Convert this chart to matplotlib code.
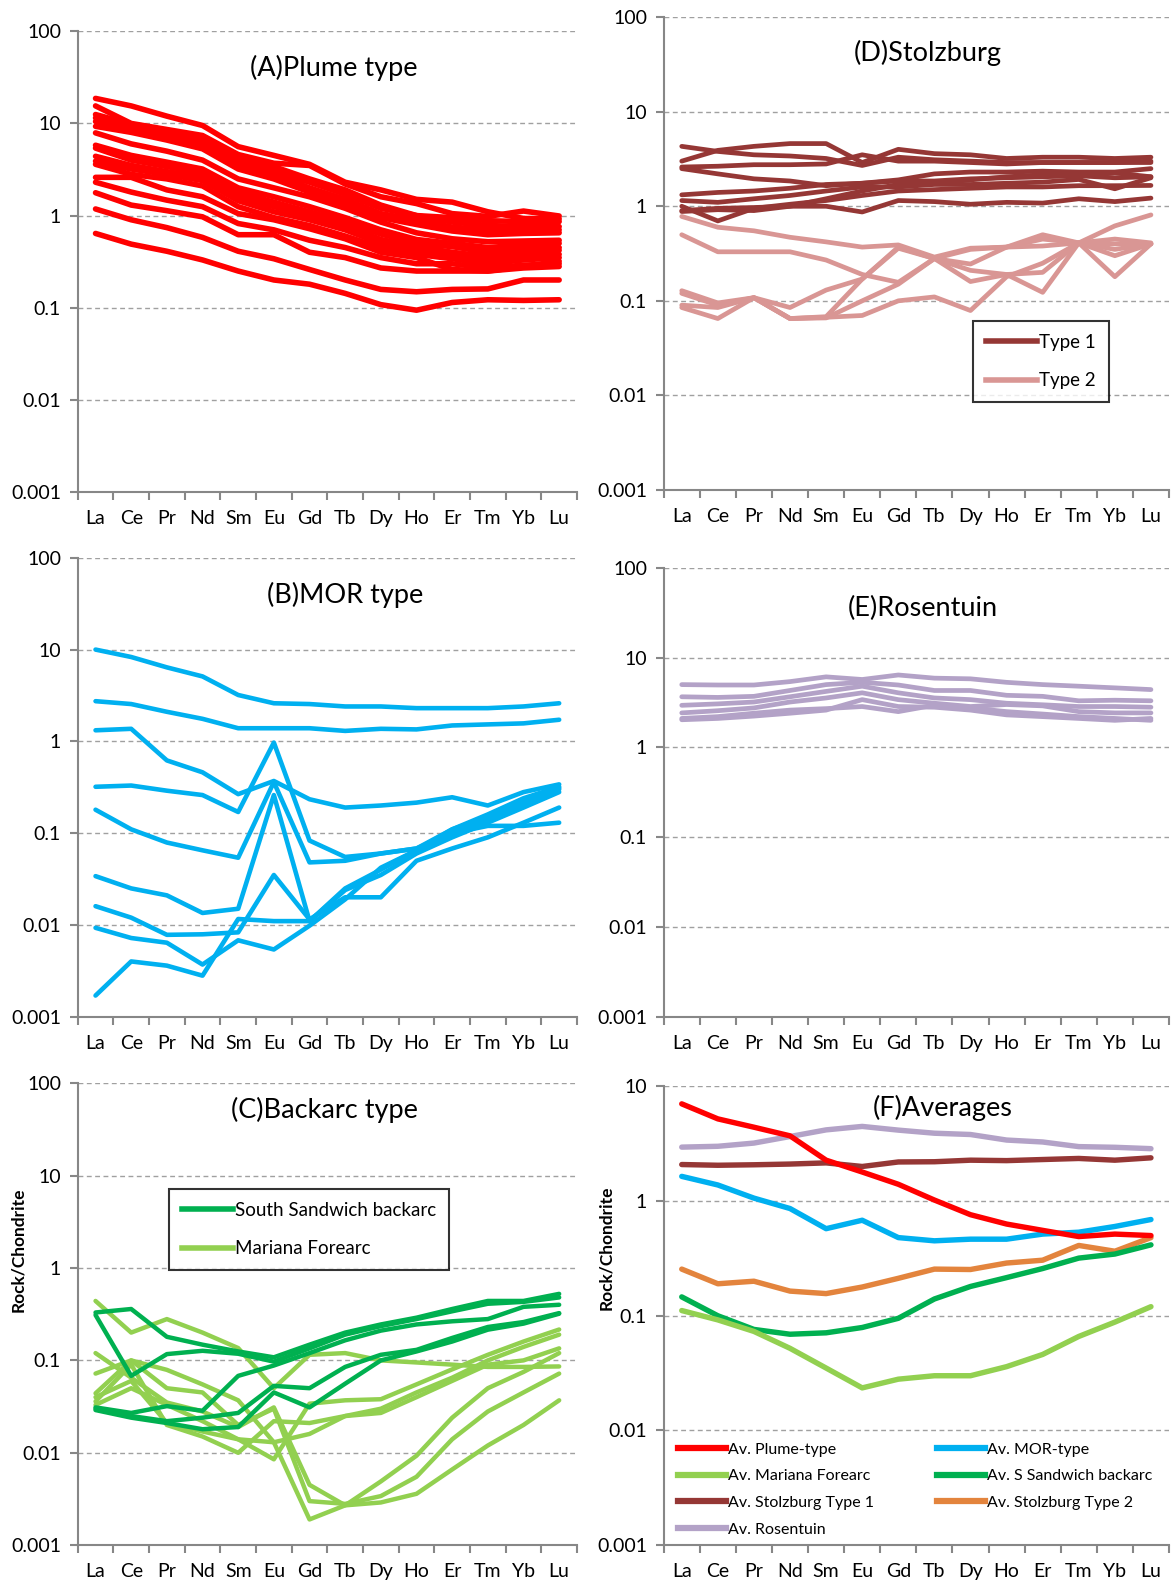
import matplotlib
matplotlib.use('Agg')
import matplotlib.pyplot as plt
import numpy as np
from matplotlib.lines import Line2D
from matplotlib.ticker import NullLocator

plt.rcParams['font.family'] = ['Lato', 'DejaVu Sans']

# REE categories
ree = ['La', 'Ce', 'Pr', 'Nd', 'Sm', 'Eu', 'Gd', 'Tb', 'Dy', 'Ho', 'Er', 'Tm', 'Yb', 'Lu']

# (A) plume type samples
plume = [
    [18.7, 15.5, 12.0, 9.5, 5.6, 4.5, 3.6, 2.3, 1.9, 1.5, 1.4, 1.1, 0.93, 0.92],
    [15.5, 10.0, 8.6, 7.4, 4.6, 3.7, 3.5, 2.2, 1.6, 1.35, 1.05, 0.98, 1.12, 0.99],
    [12.5, 9.8, 8.4, 6.8, 4.4, 3.4, 2.5, 1.9, 1.3, 1.0, 0.95, 0.88, 0.86, 0.86],
    [11.5, 9.3, 8.0, 6.4, 4.0, 3.0, 2.3, 1.7, 1.2, 1.0, 0.85, 0.78, 0.76, 0.76],
    [10.5, 8.8, 7.4, 6.0, 3.6, 2.8, 2.0, 1.5, 1.05, 0.9, 0.75, 0.7, 0.7, 0.7],
    [9.3, 8.0, 6.6, 5.3, 3.2, 2.5, 1.8, 1.35, 0.95, 0.8, 0.68, 0.62, 0.64, 0.65],
    [7.9, 6.0, 5.0, 4.0, 2.5, 2.0, 1.6, 1.2, 0.85, 0.65, 0.56, 0.52, 0.53, 0.54],
    [5.8, 4.5, 3.8, 3.2, 2.0, 1.6, 1.25, 0.95, 0.7, 0.55, 0.5, 0.45, 0.48, 0.5],
    [5.4, 4.0, 3.4, 2.9, 1.8, 1.4, 1.1, 0.85, 0.63, 0.5, 0.46, 0.4, 0.43, 0.45],
    [4.4, 3.5, 3.0, 2.6, 1.6, 1.25, 1.0, 0.78, 0.55, 0.46, 0.4, 0.36, 0.4, 0.42],
    [3.9, 3.2, 2.8, 2.4, 1.45, 1.1, 0.9, 0.7, 0.5, 0.42, 0.37, 0.33, 0.36, 0.38],
    [3.6, 2.8, 2.5, 2.1, 1.25, 0.95, 0.78, 0.6, 0.45, 0.38, 0.34, 0.3, 0.33, 0.35],
    [2.6, 2.6, 1.9, 1.6, 1.05, 0.9, 0.72, 0.56, 0.4, 0.35, 0.26, 0.25, 0.28, 0.32],
    [2.3, 1.8, 1.47, 1.25, 0.82, 0.7, 0.54, 0.45, 0.35, 0.3, 0.3, 0.27, 0.29, 0.3],
    [1.77, 1.3, 1.13, 0.97, 0.62, 0.62, 0.40, 0.35, 0.27, 0.25, 0.25, 0.25, 0.27, 0.28],
    [1.18, 0.9, 0.74, 0.58, 0.41, 0.34, 0.26, 0.2, 0.158, 0.149, 0.158, 0.16, 0.2, 0.2],
    [0.64, 0.49, 0.41, 0.33, 0.25, 0.2, 0.18, 0.143, 0.108, 0.094, 0.114, 0.122, 0.12, 0.122],
]

# (B) MOR type samples
mor = [
    [10.0, 8.3, 6.4, 5.1, 3.2, 2.6, 2.55, 2.4, 2.4, 2.3, 2.3, 2.3, 2.4, 2.6],
    [2.74, 2.55, 2.1, 1.76, 1.39, 1.39, 1.39, 1.3, 1.37, 1.35, 1.49, 1.53, 1.57, 1.72],
    [1.32, 1.37, 0.62, 0.46, 0.266, 0.37, 0.234, 0.19, 0.2, 0.215, 0.246, 0.2, 0.28, 0.34],
    [0.32, 0.33, 0.29, 0.26, 0.17, 0.97, 0.083, 0.055, 0.06, 0.068, 0.1, 0.14, 0.2, 0.3],
    [0.18, 0.11, 0.079, 0.065, 0.054, 0.36, 0.048, 0.05, 0.06, 0.068, 0.11, 0.15, 0.22, 0.31],
    [0.034, 0.025, 0.021, 0.0135, 0.015, 0.26, 0.011, 0.024, 0.035, 0.06, 0.09, 0.13, 0.19, 0.28],
    [0.016, 0.012, 0.0078, 0.0079, 0.0083, 0.035, 0.0115, 0.02, 0.02, 0.05, 0.068, 0.09, 0.13, 0.19],
    [0.0093, 0.0072, 0.0064, 0.0037, 0.0068, 0.0054, 0.0098, 0.019, 0.042, 0.065, 0.1, 0.12, 0.12, 0.13],
    [0.0017, 0.004, 0.0036, 0.0028, 0.0116, 0.011, 0.011, 0.025, 0.04, 0.065, 0.11, 0.16, 0.24, 0.32],
]

# (C) backarc / forearc samples
ss_backarc = [
    [0.33, 0.36, 0.18, 0.148, 0.125, 0.108, 0.148, 0.2, 0.245, 0.29, 0.36, 0.44, 0.44, 0.525],
    [0.31, 0.068, 0.117, 0.127, 0.118, 0.097, 0.135, 0.19, 0.235, 0.28, 0.34, 0.41, 0.43, 0.48],
    [0.031, 0.027, 0.032, 0.0285, 0.068, 0.088, 0.12, 0.165, 0.21, 0.245, 0.265, 0.28, 0.38, 0.4],
    [0.03, 0.025, 0.022, 0.024, 0.027, 0.053, 0.05, 0.085, 0.115, 0.13, 0.175, 0.23, 0.26, 0.325],
    [0.029, 0.024, 0.021, 0.018, 0.019, 0.045, 0.031, 0.056, 0.1, 0.125, 0.16, 0.215, 0.25, 0.32],
]
mariana = [
    [0.44, 0.2, 0.28, 0.2, 0.136, 0.05, 0.115, 0.12, 0.1, 0.095, 0.09, 0.085, 0.085, 0.086],
    [0.12, 0.065, 0.035, 0.028, 0.019, 0.031, 0.0045, 0.0027, 0.0049, 0.0093, 0.024, 0.05, 0.075, 0.12],
    [0.072, 0.1, 0.05, 0.045, 0.02, 0.03, 0.003, 0.0028, 0.0034, 0.0055, 0.014, 0.028, 0.045, 0.072],
    [0.044, 0.1, 0.079, 0.055, 0.037, 0.013, 0.0019, 0.0027, 0.0029, 0.0036, 0.0066, 0.012, 0.02, 0.037],
    [0.04, 0.06, 0.021, 0.017, 0.014, 0.0085, 0.034, 0.037, 0.038, 0.055, 0.08, 0.115, 0.16, 0.216],
    [0.036, 0.09, 0.02, 0.015, 0.01, 0.022, 0.021, 0.025, 0.03, 0.045, 0.065, 0.1, 0.14, 0.19],
    [0.033, 0.05, 0.033, 0.022, 0.014, 0.013, 0.016, 0.025, 0.027, 0.04, 0.06, 0.09, 0.1, 0.135],
]

# (D) Stolzburg
stolz_t1 = [
    [4.3, 3.8, 3.5, 3.4, 3.2, 2.7, 3.3, 3.1, 3.0, 2.9, 2.9, 2.9, 2.9, 2.9],
    [3.0, 3.9, 4.3, 4.6, 4.6, 2.9, 4.0, 3.6, 3.5, 3.2, 3.3, 3.3, 3.2, 3.3],
    [2.6, 2.65, 2.75, 2.75, 2.8, 3.5, 3.0, 3.0, 2.9, 2.8, 2.9, 2.9, 2.9, 3.0],
    [2.5, 2.2, 1.95, 1.85, 1.65, 1.75, 1.9, 2.2, 2.3, 2.3, 2.35, 2.3, 2.3, 2.5],
    [1.32, 1.4, 1.45, 1.55, 1.7, 1.75, 1.85, 1.85, 1.95, 2.0, 2.05, 2.1, 2.0, 2.05],
    [1.15, 1.1, 1.2, 1.3, 1.45, 1.6, 1.6, 1.7, 1.7, 1.75, 1.8, 1.92, 1.53, 2.0],
    [1.0, 0.7, 0.95, 1.05, 1.15, 1.3, 1.45, 1.5, 1.55, 1.6, 1.6, 1.65, 1.65, 1.66],
    [0.9, 0.95, 0.97, 1.0, 1.0, 0.87, 1.15, 1.12, 1.05, 1.1, 1.08, 1.2, 1.12, 1.22],
    [0.88, 0.92, 0.9, 1.0, 1.2, 1.45, 1.7, 1.75, 1.9, 2.05, 2.15, 2.1, 2.25, 2.05],
]
stolz_t2 = [
    [0.78, 0.6, 0.55, 0.47, 0.42, 0.37, 0.39, 0.29, 0.36, 0.37, 0.5, 0.41, 0.62, 0.81],
    [0.5, 0.33, 0.33, 0.33, 0.27, 0.19, 0.157, 0.28, 0.21, 0.19, 0.2, 0.41, 0.4, 0.4],
    [0.128, 0.095, 0.108, 0.085, 0.13, 0.17, 0.36, 0.28, 0.245, 0.37, 0.38, 0.41, 0.3, 0.4],
    [0.085, 0.065, 0.108, 0.065, 0.066, 0.1, 0.15, 0.28, 0.16, 0.19, 0.123, 0.41, 0.35, 0.4],
    [0.09, 0.085, 0.108, 0.065, 0.067, 0.07, 0.1, 0.11, 0.079, 0.18, 0.25, 0.41, 0.18, 0.4],
    [0.12, 0.09, 0.108, 0.065, 0.068, 0.17, 0.37, 0.28, 0.35, 0.37, 0.45, 0.41, 0.45, 0.41],
]

# (E) Rosentuin
rosentuin = [
    [5.0, 4.95, 4.95, 5.4, 6.1, 5.7, 6.4, 5.9, 5.8, 5.3, 5.0, 4.8, 4.6, 4.4],
    [3.66, 3.6, 3.7, 4.3, 5.0, 5.3, 4.95, 4.3, 4.3, 3.8, 3.7, 3.3, 3.35, 3.3],
    [2.94, 3.05, 3.2, 3.66, 4.2, 4.8, 4.05, 3.55, 3.4, 3.1, 2.98, 2.85, 2.85, 2.8],
    [2.42, 2.56, 2.75, 3.2, 3.55, 4.05, 3.4, 3.1, 2.85, 3.0, 2.9, 2.5, 2.42, 2.42],
    [2.03, 2.1, 2.23, 2.4, 2.6, 3.4, 2.85, 2.8, 2.6, 2.3, 2.2, 2.1, 2.0, 2.1],
    [2.1, 2.2, 2.4, 2.6, 2.7, 2.85, 2.5, 2.95, 2.75, 2.5, 2.35, 2.2, 2.1, 2.0],
]

# (F) averages
av_plume = [7.03, 5.2, 4.4, 3.7, 2.27, 1.79, 1.4, 1.02, 0.76, 0.63, 0.555, 0.49, 0.515, 0.5]
av_mor = [1.64, 1.38, 1.06, 0.86, 0.574, 0.68, 0.48, 0.45, 0.465, 0.465, 0.515, 0.535, 0.6, 0.69]
av_mariana = [0.111, 0.092, 0.073, 0.052, 0.035, 0.0235, 0.028, 0.03, 0.03, 0.036, 0.046, 0.066, 0.088, 0.12]
av_ss = [0.146, 0.1, 0.076, 0.069, 0.071, 0.079, 0.095, 0.14, 0.18, 0.215, 0.258, 0.318, 0.345, 0.415]
av_stolz1 = [2.08, 2.05, 2.07, 2.1, 2.15, 2.0, 2.19, 2.2, 2.27, 2.25, 2.3, 2.35, 2.27, 2.38]
av_stolz2 = [0.255, 0.19, 0.2, 0.164, 0.156, 0.178, 0.212, 0.255, 0.253, 0.288, 0.305, 0.41, 0.365, 0.48]
av_rosentuin = [2.95, 3.0, 3.2, 3.65, 4.17, 4.47, 4.15, 3.9, 3.8, 3.4, 3.27, 2.98, 2.94, 2.86]

RED = '#FF0000'
BLUE = '#00B0F0'
LGREEN = '#92D050'
DGREEN = '#00B050'
DRED = '#953735'
PINK = '#D99694'
LAV = '#B3A2C7'
ORANGE = '#E3843D'
AXGRAY = '#878787'
GRIDGRAY = '#A0A0A0'

W, H = 1171, 1582
fig = plt.figure(figsize=(W / 100, H / 100), dpi=100)


def make_ax(left, right, top, bottom):
    return fig.add_axes([left / W, 1 - bottom / H, (right - left) / W, (bottom - top) / H])


def style(ax, lo, hi, title, tx, ty):
    ax.set_yscale('log')
    ax.set_ylim(10.0 ** lo, 10.0 ** hi)
    ax.set_xlim(-0.5, 13.5)
    dec = [10.0 ** k for k in range(lo, hi + 1)]
    labs = ['%g' % d for d in dec]
    ax.set_yticks(dec)
    ax.set_yticklabels(labs)
    ax.yaxis.set_minor_locator(NullLocator())
    for d in dec[1:]:
        ax.axhline(d, color=GRIDGRAY, lw=1.0, ls=(0, (3.5, 2.5)), zorder=0)
    ax.set_xticks(range(len(ree)))
    ax.set_xticklabels(ree)
    ax.set_xticks(np.arange(-0.5, len(ree), 1.0), minor=True)
    ax.tick_params(axis='x', which='major', length=0, pad=13, labelsize=14)
    ax.tick_params(axis='x', which='minor', length=6, width=1.5, color=AXGRAY, direction='out')
    ax.tick_params(axis='y', which='major', length=6, width=1.5, color=AXGRAY, direction='out',
                   pad=6, labelsize=14)
    for s in ['top', 'right']:
        ax.spines[s].set_visible(False)
    for s in ['left', 'bottom']:
        ax.spines[s].set_color(AXGRAY)
        ax.spines[s].set_linewidth(1.5)
    ax.text(tx, ty, title, transform=ax.transAxes, ha='center', va='center', fontsize=19.5)


def draw(ax, rows, color, lw):
    x = np.arange(len(ree))
    for r in rows:
        ax.plot(x, r, color=color, lw=lw, solid_joinstyle='round', solid_capstyle='round', zorder=3)


axA = make_ax(77.7, 577, 31.3, 492)
axD = make_ax(663.7, 1169, 17.1, 490)
axB = make_ax(77.7, 577, 557.8, 1016.7)
axE = make_ax(663.7, 1169, 567.8, 1016.7)
axC = make_ax(77.7, 577, 1083.2, 1545.2)
axF = make_ax(663.7, 1169, 1086.3, 1545.2)

style(axA, -3, 2, '(A)Plume type', 0.513, 0.921)
draw(axA, plume, RED, 4.0)

style(axD, -3, 2, '(D)Stolzburg', 0.523, 0.925)
draw(axD, stolz_t1, DRED, 3.4)
draw(axD, stolz_t2, PINK, 3.4)
hD = [Line2D([], [], color=DRED, lw=4), Line2D([], [], color=PINK, lw=4)]
legD = axD.legend(hD, ['Type 1', 'Type 2'], loc='upper left', bbox_to_anchor=(0.594, 0.378),
                  fontsize=13.5, frameon=True, fancybox=False, edgecolor='black',
                  handlelength=2.7, handletextpad=0.1, labelspacing=1.15, borderpad=0.7)
legD.get_frame().set_linewidth(1.5)

style(axB, -3, 2, '(B)MOR type', 0.535, 0.919)
draw(axB, mor, BLUE, 3.3)

style(axE, -3, 2, '(E)Rosentuin', 0.513, 0.910)
draw(axE, rosentuin, LAV, 3.4)

style(axC, -3, 2, '(C)Backarc type', 0.495, 0.943)
draw(axC, mariana, LGREEN, 3.2)
draw(axC, ss_backarc, DGREEN, 3.2)
hC = [Line2D([], [], color=DGREEN, lw=4), Line2D([], [], color=LGREEN, lw=4)]
legC = axC.legend(hC, ['South Sandwich backarc', 'Mariana Forearc'], loc='upper left',
                  bbox_to_anchor=(0.164, 0.792), fontsize=13.5, frameon=True, fancybox=False,
                  edgecolor='black', handlelength=2.7, handletextpad=0.1, labelspacing=1.15,
                  borderpad=0.7)
legC.get_frame().set_linewidth(1.5)

style(axF, -3, 1, '(F)Averages', 0.553, 0.952)
avs = [(av_rosentuin, LAV), (av_stolz2, ORANGE), (av_stolz1, DRED), (av_ss, DGREEN),
       (av_mariana, LGREEN), (av_mor, BLUE), (av_plume, RED)]
x = np.arange(len(ree))
for vals, c in avs:
    axF.plot(x, vals, color=c, lw=3.9, solid_joinstyle='round', solid_capstyle='round', zorder=3)
hF = [Line2D([], [], color=c, lw=4.5) for c in [RED, LGREEN, DRED, LAV, BLUE, DGREEN, ORANGE]]
lF = ['Av. Plume-type', 'Av. Mariana Forearc', 'Av. Stolzburg Type 1', 'Av. Rosentuin',
      'Av. MOR-type', 'Av. S Sandwich backarc', 'Av. Stolzburg Type 2']
axF.legend(hF, lF, ncol=2, loc='upper left', bbox_to_anchor=(0.0, 0.255), fontsize=11.5,
           frameon=False, handlelength=3.0, handletextpad=0.1, labelspacing=0.78,
           columnspacing=4.0, borderaxespad=0.5)

fig.text(18 / W, 1 - 1250 / H, 'Rock/Chondrite', rotation=90, ha='center', va='center',
         fontsize=12.5, fontweight='bold')
fig.text(606 / W, 1 - 1248 / H, 'Rock/Chondrite', rotation=90, ha='center', va='center',
         fontsize=12.5, fontweight='bold')

fig.savefig('out.png', dpi=100)
